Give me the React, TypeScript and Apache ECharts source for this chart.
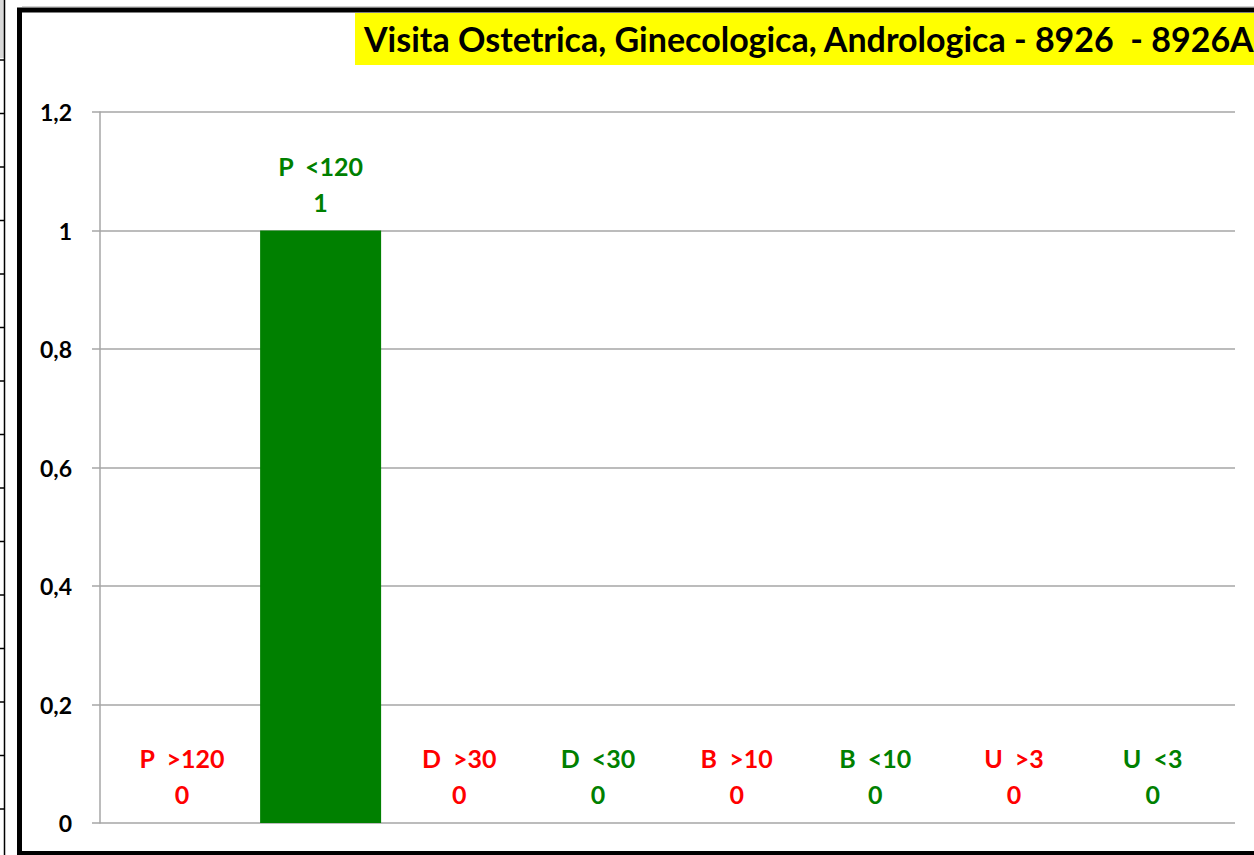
import React, { useEffect, useRef } from "react";
import * as echarts from "echarts";

const categories = ["P  >120", "P  <120", "D  >30", "D  <30", "B  >10", "B  <10", "U  >3", "U  <3"];
const values = [0, 1, 0, 0, 0, 0, 0, 0];
const labelColors = ["#FF0000", "#008000", "#FF0000", "#008000", "#FF0000", "#008000", "#FF0000", "#008000"];
const yTicks = [0, 0.2, 0.4, 0.6, 0.8, 1, 1.2];
const titleText = "Visita Ostetrica, Ginecologica, Andrologica - 8926  - 8926A";

const FONT = "Lato, 'Noto Sans', sans-serif";

export default function App() {
  const ref = useRef<HTMLDivElement>(null);
  useEffect(() => {
    if (!ref.current) return;
    const chart = echarts.init(ref.current, undefined, { renderer: "svg" });
    const leftTicks: any[] = [];
    for (let i = 0; i < 15; i++) {
      const y = 60 + i * 53.5;
      leftTicks.push({
        type: "line",
        shape: { x1: 0, y1: y, x2: 5, y2: y },
        style: { stroke: "#000", lineWidth: 1.5 },
      });
    }
    chart.setOption({
      animation: false,
      backgroundColor: "#ffffff",
      grid: [
        { left: 100, right: 19, top: 112, bottom: 32 },
        { left: 112.6, right: 32, top: 112, bottom: 32 },
      ],
      xAxis: [
        { type: "value", gridIndex: 0, show: false, min: 0, max: 1 },
        {
          type: "category",
          gridIndex: 1,
          data: categories,
          axisLine: { show: false },
          axisTick: { show: false },
          axisLabel: { show: false },
        },
      ],
      yAxis: [
        {
          type: "value",
          gridIndex: 0,
          min: yTicks[0],
          max: yTicks[yTicks.length - 1],
          interval: 0.2,
          axisLine: { show: true, lineStyle: { color: "#a6a6a6", width: 1.5 } },
          axisTick: { show: true, length: 8, lineStyle: { color: "#a6a6a6", width: 1.5 } },
          splitLine: { show: true, lineStyle: { color: "#a6a6a6", width: 1.5 } },
          axisLabel: {
            margin: 28,
            color: "#000",
            fontFamily: FONT,
            fontWeight: "bold",
            fontSize: 23,
            formatter: (v: number) => String(Number(v.toFixed(1))).replace(".", ","),
          },
        },
        {
          type: "value",
          gridIndex: 1,
          min: yTicks[0],
          max: yTicks[yTicks.length - 1],
          interval: 0.2,
          show: false,
          splitLine: { show: false },
        },
      ],
      series: [
        {
          type: "bar",
          xAxisIndex: 1,
          yAxisIndex: 1,
          barWidth: 121,
          data: values.map((v, i) => ({
            value: v,
            itemStyle: { color: "#008000" },
            label: { color: labelColors[i] },
          })),
          label: {
            show: true,
            position: "top",
            distance: 11,
            fontFamily: FONT,
            fontWeight: "bold",
            fontSize: 25,
            lineHeight: 36,
            align: "center",
            formatter: (p: any) => `${p.name}\n${p.value}`,
          },
        },
      ],
      graphic: [
        { type: "rect", shape: { x: 0, y: 0, width: 4, height: 58 }, style: { fill: "#d9d9d9" } },
        { type: "line", shape: { x1: 4.5, y1: 0, x2: 4.5, y2: 855 }, style: { stroke: "#000", lineWidth: 1.5 } },
        ...leftTicks,
        { type: "line", shape: { x1: 22, y1: 6.5, x2: 1254, y2: 6.5 }, style: { stroke: "#d0d0d0", lineWidth: 1 } },
        {
          type: "rect",
          shape: { x: 19.5, y: 10, width: 1300, height: 843.5 },
          style: { fill: "none", stroke: "#000", lineWidth: 5 },
        },
        { type: "rect", shape: { x: 355, y: 13, width: 910, height: 52 }, style: { fill: "#FFFF00" } },
        {
          type: "text",
          x: 364,
          y: 38,
          style: {
            text: titleText,
            fill: "#000",
            font: `bold 34px ${FONT}`,
            textVerticalAlign: "middle",
            verticalAlign: "middle",
          },
        },
      ],
    });
    return () => chart.dispose();
  }, []);
  return (
    <div
      ref={ref}
      style={{ position: "absolute", left: 0, top: 0, width: 1254, height: 855 }}
    />
  );
}
